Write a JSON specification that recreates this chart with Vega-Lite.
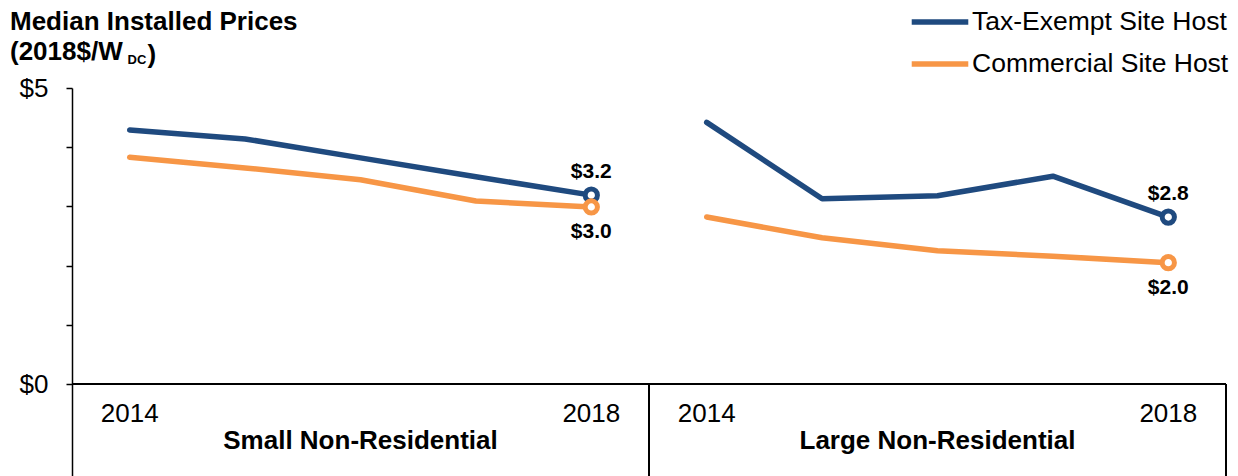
{
  "$schema": "https://vega.github.io/schema/vega-lite/v6.json",
  "width": 1154,
  "height": 388,
  "autosize": "none",
  "padding": {"left": 72, "top": 88, "right": 12, "bottom": 0},
  "background": "white",
  "config": {
    "font": "Liberation Sans",
    "view": {"stroke": null},
    "legend": {"orient": "none", "legendX": 851, "legendY": -83, "padding": 0}
  },
  "title": {
    "text": ["Median Installed Prices", "(2018$/W"],
    "fontSize": 26,
    "fontWeight": "bold",
    "color": "#000000",
    "anchor": "start",
    "frame": "group",
    "lineHeight": 30,
    "dx": -62,
    "dy": 64,
    "offset": 4
  },
  "datasets": {
    "prices": [
      {"segment": "Small Non-Residential", "year": "2014", "idx": 0, "series": "Tax-Exempt Site Host", "value": 4.29},
      {"segment": "Small Non-Residential", "year": "2015", "idx": 1, "series": "Tax-Exempt Site Host", "value": 4.14},
      {"segment": "Small Non-Residential", "year": "2016", "idx": 2, "series": "Tax-Exempt Site Host", "value": 3.82},
      {"segment": "Small Non-Residential", "year": "2017", "idx": 3, "series": "Tax-Exempt Site Host", "value": 3.50},
      {"segment": "Small Non-Residential", "year": "2018", "idx": 4, "series": "Tax-Exempt Site Host", "value": 3.19},
      {"segment": "Small Non-Residential", "year": "2014", "idx": 0, "series": "Commercial Site Host", "value": 3.83},
      {"segment": "Small Non-Residential", "year": "2015", "idx": 1, "series": "Commercial Site Host", "value": 3.65},
      {"segment": "Small Non-Residential", "year": "2016", "idx": 2, "series": "Commercial Site Host", "value": 3.45},
      {"segment": "Small Non-Residential", "year": "2017", "idx": 3, "series": "Commercial Site Host", "value": 3.09},
      {"segment": "Small Non-Residential", "year": "2018", "idx": 4, "series": "Commercial Site Host", "value": 2.99},
      {"segment": "Large Non-Residential", "year": "2014", "idx": 5, "series": "Tax-Exempt Site Host", "value": 4.42},
      {"segment": "Large Non-Residential", "year": "2015", "idx": 6, "series": "Tax-Exempt Site Host", "value": 3.13},
      {"segment": "Large Non-Residential", "year": "2016", "idx": 7, "series": "Tax-Exempt Site Host", "value": 3.18},
      {"segment": "Large Non-Residential", "year": "2017", "idx": 8, "series": "Tax-Exempt Site Host", "value": 3.51},
      {"segment": "Large Non-Residential", "year": "2018", "idx": 9, "series": "Tax-Exempt Site Host", "value": 2.82},
      {"segment": "Large Non-Residential", "year": "2014", "idx": 5, "series": "Commercial Site Host", "value": 2.82},
      {"segment": "Large Non-Residential", "year": "2015", "idx": 6, "series": "Commercial Site Host", "value": 2.47},
      {"segment": "Large Non-Residential", "year": "2016", "idx": 7, "series": "Commercial Site Host", "value": 2.25},
      {"segment": "Large Non-Residential", "year": "2017", "idx": 8, "series": "Commercial Site Host", "value": 2.16},
      {"segment": "Large Non-Residential", "year": "2018", "idx": 9, "series": "Commercial Site Host", "value": 2.05}
    ]
  },
  "data": {"name": "prices"},
  "encoding": {
    "x": {
      "field": "idx",
      "type": "quantitative",
      "scale": {"domain": [-0.5, 9.5], "nice": false, "zero": false},
      "axis": {
        "labels": false, "ticks": false, "domain": false, "grid": false,
        "title": ")",
        "titleFontSize": 26, "titleFontWeight": "bold", "titleColor": "#000000",
        "titleAlign": "left", "titleBaseline": "alphabetic", "titleAngle": 0,
        "titleX": 75, "titleY": -414
      }
    },
    "y": {
      "field": "value",
      "type": "quantitative",
      "scale": {"domain": [-1.554, 5], "nice": false, "zero": false},
      "axis": {
        "values": [0, 1, 2, 3, 4, 5],
        "labelExpr": "datum.value == 0 ? '$0' : (datum.value == 5 ? '$5' : '')",
        "grid": false,
        "tickSize": 6,
        "tickColor": "#000000",
        "tickWidth": 1.5,
        "domainColor": "#000000",
        "domainWidth": 1.5,
        "labelFontSize": 26,
        "labelColor": "#000000",
        "labelPadding": 18,
        "title": "DC",
        "titleFontSize": 13,
        "titleFontWeight": "bold",
        "titleColor": "#000000",
        "titleAngle": 0,
        "titleAlign": "left",
        "titleBaseline": "alphabetic",
        "titleX": 55,
        "titleY": -25
      }
    }
  },
  "layer": [
    {
      "mark": {"type": "rule", "color": "#000000", "strokeWidth": 1.5},
      "encoding": {"x": {"datum": -0.5}, "x2": {"datum": 9.5}, "y": {"datum": 0}}
    },
    {
      "mark": {"type": "rule", "color": "#000000", "strokeWidth": 1.5},
      "encoding": {"x": {"datum": 4.5}, "y": {"datum": 0}, "y2": {"datum": -1.554}}
    },
    {
      "mark": {"type": "rule", "color": "#000000", "strokeWidth": 1.5},
      "encoding": {"x": {"datum": 9.5}, "y": {"datum": 0}, "y2": {"datum": -1.554}}
    },
    {
      "mark": {"type": "line", "strokeWidth": 5.5, "strokeCap": "round", "strokeJoin": "round"},
      "encoding": {
        "color": {
          "field": "series",
          "type": "nominal",
          "scale": {"domain": ["Tax-Exempt Site Host", "Commercial Site Host"], "range": ["#1F4A7F", "#F79646"]},
          "legend": {
            "title": null,
            "symbolType": "M-2,0H2",
            "symbolSize": 800,
            "symbolStrokeWidth": 5.5,
            "labelFontSize": 26.5,
            "labelColor": "#000000",
            "labelOffset": 15,
            "rowPadding": 11,
            "labelLimit": 400
          }
        },
        "detail": {"field": "segment"}
      }
    },
    {
      "transform": [{"filter": "datum.year == '2018'"}],
      "mark": {"type": "point", "shape": "circle", "filled": true, "fill": "white", "size": 150, "strokeWidth": 5, "opacity": 1},
      "encoding": {
        "stroke": {"field": "series", "type": "nominal", "scale": {"domain": ["Tax-Exempt Site Host", "Commercial Site Host"], "range": ["#1F4A7F", "#F79646"]}, "legend": null}
      }
    },
    {
      "transform": [{"filter": "datum.year == '2018' && datum.series == 'Tax-Exempt Site Host'"}],
      "mark": {"type": "text", "fontSize": 21, "fontWeight": "bold", "color": "#000000", "dy": -23},
      "encoding": {"text": {"field": "value", "type": "quantitative", "format": "$.1f"}}
    },
    {
      "transform": [{"filter": "datum.year == '2018' && datum.series == 'Commercial Site Host'"}],
      "mark": {"type": "text", "fontSize": 21, "fontWeight": "bold", "color": "#000000", "dy": 25},
      "encoding": {"text": {"field": "value", "type": "quantitative", "format": "$.1f"}}
    },
    {
      "transform": [{"filter": "(datum.year == '2014' || datum.year == '2018') && datum.series == 'Tax-Exempt Site Host'"}],
      "mark": {"type": "text", "fontSize": 26, "color": "#000000"},
      "encoding": {"text": {"field": "year"}, "y": {"datum": -0.5}}
    },
    {
      "transform": [{"filter": "(datum.idx == 2 || datum.idx == 7) && datum.series == 'Tax-Exempt Site Host'"}],
      "mark": {"type": "text", "fontSize": 26, "fontWeight": "bold", "color": "#000000"},
      "encoding": {"text": {"field": "segment"}, "y": {"datum": -0.965}}
    }
  ]
}
